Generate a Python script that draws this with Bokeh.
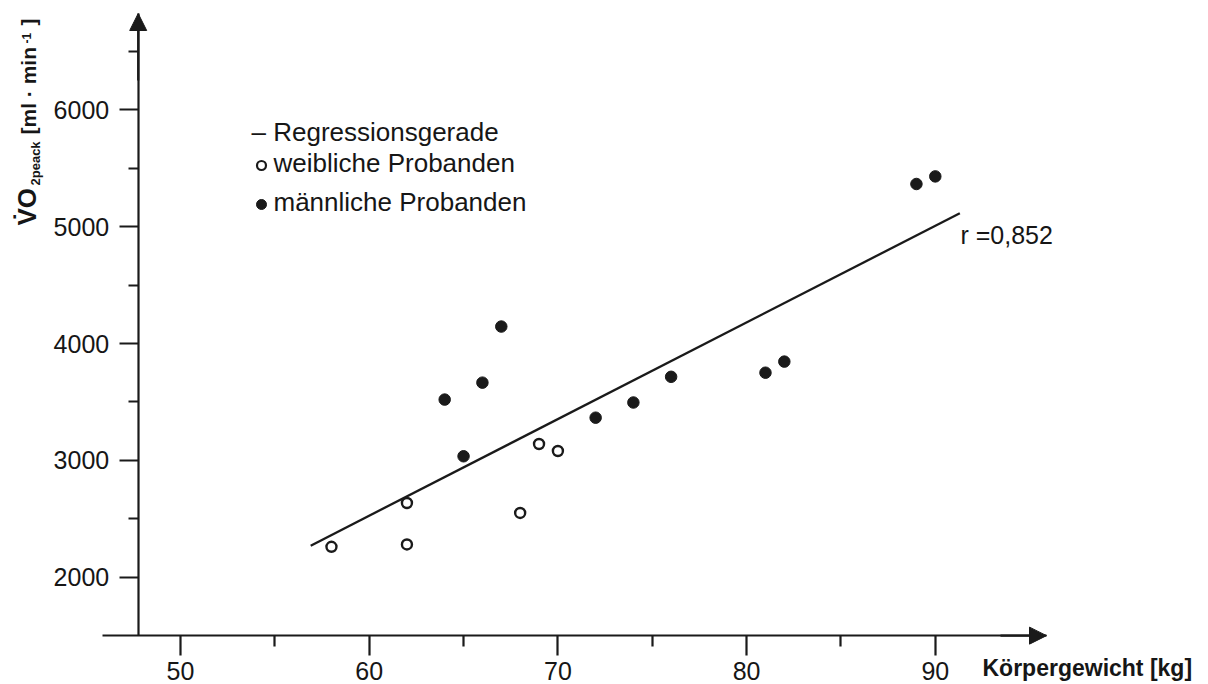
import math
from bokeh.plotting import figure
from bokeh.models import Range1d, FixedTicker, Arrow, NormalHead
from bokeh.core.properties import value
from bokeh.embed import file_html
from bokeh.resources import INLINE

# ---------------- data ----------------
female_weight = [58, 62, 62, 68, 69, 70]
female_vo2 = [2260, 2280, 2635, 2550, 3140, 3080]
male_weight = [64, 65, 66, 67, 72, 74, 76, 81, 82, 89, 90]
male_vo2 = [3520, 3035, 3665, 4145, 3365, 3495, 3715, 3750, 3845, 5365, 5430]
regression_weight = [56.9, 91.3]
regression_vo2 = [2270, 5115]
x_ticks = [50, 60, 70, 80, 90]
x_minor_ticks = [55, 65, 75, 85]
y_ticks = [2000, 3000, 4000, 5000, 6000]
y_minor_ticks = [2500, 3500, 4500, 5500, 6500]
legend_labels = ["\u2013 Regressionsgerade", "weibliche Probanden", "m\u00e4nnliche Probanden"]
r_label = "r =0,852"
x_title = "K\u00f6rpergewicht [kg]"
y_title_parts = ["V\u0307O", "2peack", "[ml \u00b7 min", "-1", "]"]
x_axis_level = 1500

# ---------------- layout helpers (pixel -> data) ----------------
W, H = 1208, 684
KX = 18.87                 # px per kg
X0 = 50 - 180 / KX         # kg at left edge
KY = 0.11685               # px per ml/min
YT = 6000 + 109.3 / KY     # value at top edge
BASE = 0.42                # baseline correction (fraction of font size)


def dx(px):
    return X0 + px / KX


def dy(py):
    return YT - py / KY


INK = "#1a1a1a"
TXT = "#161616"
FONT = "Liberation Sans"

p = figure(width=W, height=H, x_range=Range1d(dx(0), dx(W)), y_range=Range1d(dy(H), dy(0)),
           output_backend="svg", toolbar_location=None, tools="", min_border=0)
p.grid.visible = False
p.outline_line_color = None
p.background_fill_color = "white"
p.border_fill_color = "white"

y_axis_x = dx(137.7)

xa = p.xaxis[0]
xa.fixed_location = x_axis_level
xa.bounds = (dx(102.3), dx(1046))
xa.ticker = FixedTicker(ticks=x_ticks, minor_ticks=x_minor_ticks)
ya = p.yaxis[0]
ya.fixed_location = y_axis_x
ya.bounds = (x_axis_level, dy(13))
ya.ticker = FixedTicker(ticks=y_ticks, minor_ticks=y_minor_ticks)

for ax, tick_out, minor_out, standoff in ((xa, 20, 11, 6), (ya, 19, 10, 10)):
    ax.axis_line_color = INK
    ax.axis_line_width = 2.2
    ax.major_tick_in = 0
    ax.major_tick_out = tick_out
    ax.minor_tick_in = 0
    ax.minor_tick_out = minor_out
    ax.major_tick_line_color = INK
    ax.major_tick_line_width = 2.2
    ax.minor_tick_line_color = INK
    ax.minor_tick_line_width = 2.2
    ax.major_label_text_font = FONT
    ax.major_label_text_font_size = "25px"
    ax.major_label_text_color = TXT
    ax.major_label_standoff = standoff

# arrow heads of the axes
p.add_layout(Arrow(end=NormalHead(size=17, fill_color=INK, line_color=INK, line_width=1),
                   x_start=dx(1000), y_start=x_axis_level, x_end=dx(1046), y_end=x_axis_level,
                   line_color=INK, line_width=2.2))
p.add_layout(Arrow(end=NormalHead(size=17, fill_color=INK, line_color=INK, line_width=1),
                   x_start=y_axis_x, y_start=dy(80), x_end=y_axis_x, y_end=dy(13),
                   line_color=INK, line_width=2.2))

# regression line
p.line(regression_weight, regression_vo2, line_color=INK, line_width=2.3)

# data points
p.scatter(female_weight, female_vo2, marker="circle", size=10, fill_color="white",
          line_color=INK, line_width=2.4)
p.scatter(male_weight, male_vo2, marker="circle", size=11.5, fill_color=INK, line_color=INK)


def htext(px, py, txt, size, bold=False):
    p.text(x=[dx(px)], y=[dy(py - BASE * size)], text=[txt], text_font=value(FONT),
           text_font_size=f"{size}px", text_font_style="bold" if bold else "normal",
           text_color=TXT, text_align="left", text_baseline="alphabetic")


# legend (manual, as in the original figure)
leg_px = [(251, 142), (273, 173), (273, 212)]
for (lx, ly), lab in zip(leg_px, legend_labels):
    htext(lx, ly, lab, 26)
p.scatter([dx(261)], [dy(165)], marker="circle", size=9, fill_color="white",
          line_color=INK, line_width=2.2)
p.scatter([dx(261)], [dy(204)], marker="circle", size=10, fill_color=INK, line_color=INK)

# correlation coefficient
htext(960, 245, r_label, 25)

# x axis title
htext(982, 677, x_title, 23, bold=True)

# y axis title (rotated, with sub/superscript pieces)
y_px = [(37, 225), (40, 185), (37, 134), (31, 43), (37, 25)]
y_sizes = [26, 13, 21, 12, 21]
for part, (bx, by), sz in zip(y_title_parts, y_px, y_sizes):
    p.text(x=[dx(bx - BASE * sz)], y=[dy(by)], text=[part], angle=math.pi / 2,
           text_font=value(FONT), text_font_size=f"{sz}px", text_font_style="bold",
           text_color=TXT, text_align="left", text_baseline="alphabetic")

open("out.html", "w").write(file_html(p, INLINE))
